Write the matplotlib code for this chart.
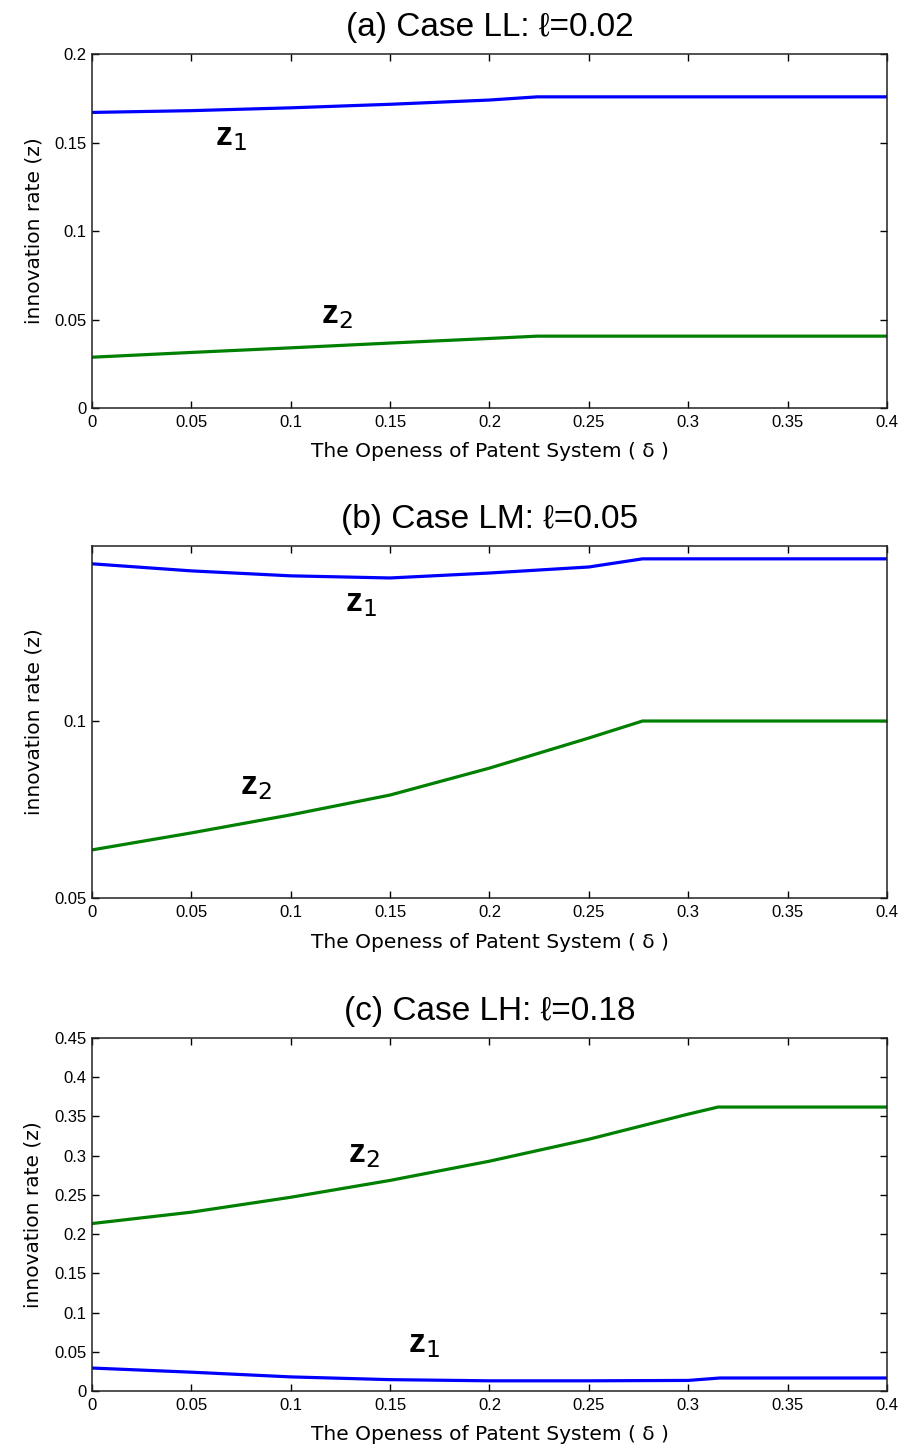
import numpy as np
import matplotlib
matplotlib.use("Agg")
from matplotlib import pyplot as plt

plt.rcParams['font.family'] = ['Liberation Sans', 'DejaVu Sans']
plt.rcParams['mathtext.default'] = 'regular'

# (a) Case LL
xa_z1 = [0, 0.05, 0.1, 0.15, 0.2, 0.224, 0.4]
za_z1 = [0.167, 0.168, 0.1696, 0.1716, 0.174, 0.1758, 0.1758]
xa_z2 = [0, 0.05, 0.1, 0.15, 0.2, 0.224, 0.4]
za_z2 = [0.0287, 0.0314, 0.034, 0.0367, 0.0393, 0.0406, 0.0406]

# (b) Case LM
xb_z1 = [0, 0.05, 0.1, 0.15, 0.2, 0.25, 0.277, 0.4]
zb_z1 = [0.1444, 0.1424, 0.141, 0.1404, 0.1418, 0.1435, 0.1458, 0.1458]
xb_z2 = [0, 0.05, 0.1, 0.15, 0.2, 0.25, 0.277, 0.4]
zb_z2 = [0.0636, 0.0684, 0.0735, 0.0791, 0.0867, 0.0952, 0.1, 0.1]

# (c) Case LH
xc_z1 = [0, 0.05, 0.1, 0.15, 0.2, 0.25, 0.3, 0.316, 0.4]
zc_z1 = [0.0293, 0.024, 0.018, 0.0145, 0.013, 0.013, 0.0135, 0.0166, 0.0166]
xc_z2 = [0, 0.05, 0.1, 0.15, 0.2, 0.25, 0.3, 0.315, 0.4]
zc_z2 = [0.2135, 0.228, 0.247, 0.2685, 0.293, 0.321, 0.353, 0.362, 0.362]

panels = [
    dict(title='(a) Case LL: ℓ=0.02', x1=xa_z1, z1=za_z1, x2=xa_z2, z2=za_z2,
         ylim=(0, 0.2), yticks=[0, 0.05, 0.1, 0.15, 0.2],
         ylabels=['0', '0.05', '0.1', '0.15', '0.2'],
         lab1=(0.062, 0.153), lab2=(0.115, 0.0525),
         rect=[0.1022, 0.719, 0.8833, 0.2438]),
    dict(title='(b) Case LM: ℓ=0.05', x1=xb_z1, z1=zb_z1, x2=xb_z2, z2=zb_z2,
         ylim=(0.05, 0.1494), yticks=[0.05, 0.1],
         ylabels=['0.05', '0.1'],
         lab1=(0.1275, 0.1333), lab2=(0.0746, 0.0814),
         rect=[0.1022, 0.3815, 0.8833, 0.2424]),
    dict(title='(c) Case LH: ℓ=0.18', x1=xc_z1, z1=zc_z1, x2=xc_z2, z2=zc_z2,
         ylim=(0, 0.45), yticks=[0, 0.05, 0.1, 0.15, 0.2, 0.25, 0.3, 0.35, 0.4, 0.45],
         ylabels=['0', '0.05', '0.1', '0.15', '0.2', '0.25', '0.3', '0.35', '0.4', '0.45'],
         lab1=(0.159, 0.0587), lab2=(0.129, 0.301),
         rect=[0.1022, 0.042, 0.8833, 0.2431]),
]

xticks = [0, 0.05, 0.1, 0.15, 0.2, 0.25, 0.3, 0.35, 0.4]
xlabels = ['0', '0.05', '0.1', '0.15', '0.2', '0.25', '0.3', '0.35', '0.4']

tick_font = dict(family=['Liberation Sans Narrow', 'Liberation Sans'], size=12)
label_font = dict(family=['DejaVu Sans'], size=14.5)

fig = plt.figure(figsize=(9, 14.52), dpi=100)
for p in panels:
    ax = fig.add_axes(p['rect'])
    ax.plot(p['x1'], p['z1'], color='#0000ff', lw=2.3)
    ax.plot(p['x2'], p['z2'], color='#008000', lw=2.3)
    ax.set_xlim(0, 0.4)
    ax.set_ylim(*p['ylim'])
    ax.set_xticks(xticks)
    ax.set_xticklabels(xlabels, fontdict=tick_font)
    ax.set_yticks(p['yticks'])
    ax.set_yticklabels(p['ylabels'], fontdict=tick_font)
    ax.tick_params(direction='in', length=5, width=1, top=True, right=True)
    ax.tick_params(axis='x', pad=5)
    ax.tick_params(axis='y', pad=4)
    for s in ax.spines.values():
        s.set_linewidth(1.1)
        s.set_color('#222222')
    ax.set_title(p['title'], fontsize=24, pad=13)
    ax.set_xlabel('The Openess of Patent System ( δ )', fontdict=label_font, labelpad=9)
    ax.set_ylabel('innovation rate (z)', fontdict=label_font, labelpad=8)
    # z label: heavy letter, thin subscript
    ax.text(p['lab1'][0], p['lab1'][1], r'z$_\mathrm{1}$', fontsize=24, fontweight='bold',
            ha='left', va='center')
    ax.text(p['lab2'][0], p['lab2'][1], r'z$_\mathrm{2}$', fontsize=24, fontweight='bold',
            ha='left', va='center')

fig.savefig('out.png', dpi=100)
